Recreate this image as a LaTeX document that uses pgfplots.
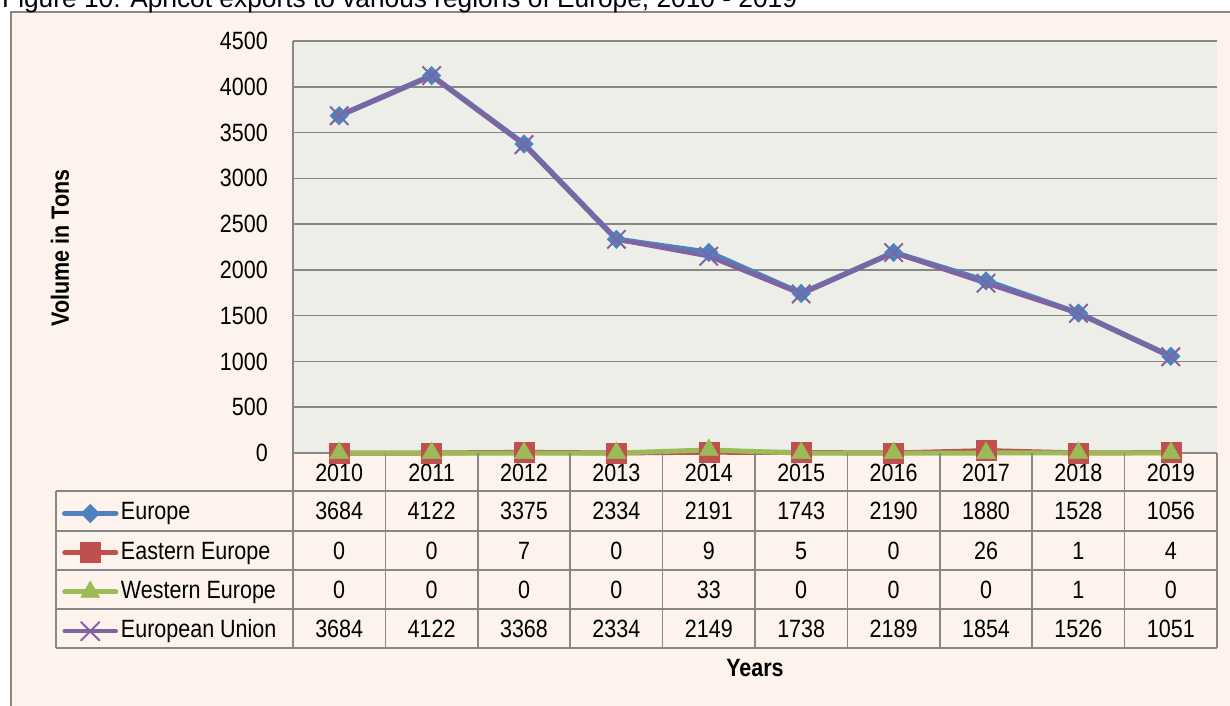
\documentclass[border=0pt]{standalone}
\usepackage{pgfplots}
\pgfplotsset{compat=1.18}
\usepackage{pgfplotstable}
\usepackage{fontspec}
\setmainfont{Liberation Sans}[FakeStretch=0.86]
\newfontfamily\titlefont{Liberation Sans}
\definecolor{outerbg}{HTML}{FDF2EC}
\definecolor{plotbg}{HTML}{EEEEE9}
\definecolor{gridc}{HTML}{878787}
\definecolor{cEu}{HTML}{4F81BD}
\definecolor{cEa}{HTML}{C0504D}
\definecolor{cWe}{HTML}{9BBB59}
\definecolor{cEU}{HTML}{8064A2}
\newcommand\f{\fontsize{25bp}{30bp}\selectfont}

\pgfplotstableread{
x europe eastern western eu
0 3684 0 0 3684
1 4122 0 0 4122
2 3375 7 0 3368
3 2334 0 0 2334
4 2191 9 33 2149
5 1743 5 0 1738
6 2190 0 0 2189
7 1880 26 0 1854
8 1528 1 1 1526
9 1056 4 0 1051
}\data

\begin{document}
\begin{tikzpicture}
\begin{scope}[x=1bp,y=-1bp,yshift=706bp]
\path[use as bounding box] (0,0) rectangle (1230,706);
\fill[outerbg] (11,12) rectangle (1240,720);
\draw[gridc, line width=1.5bp] (11,720) -- (11,12) -- (1240,12);
\node[anchor=base west, inner sep=0pt, font=\titlefont\fontsize{26.3bp}{30bp}\selectfont] at (2,8) {Figure 10: Apricot exports to various regions of Europe, 2010 - 2019};
\end{scope}

\begin{axis}[
  at={(293bp,253bp)}, anchor=south west,
  width=924bp, height=412bp, scale only axis,
  xmin=-0.5, xmax=9.5, ymin=0, ymax=4500,
  xtick={0,1,2,3,4,5,6,7,8,9},
  xticklabels={2010,2011,2012,2013,2014,2015,2016,2017,2018,2019},
  ytick={0,500,...,4500},
  major tick length=0pt,
  axis x line*=bottom, axis y line*=left,
  axis line style={draw=gridc, line width=1.5bp, -},
  ymajorgrids, grid style={draw=gridc, line width=1.5bp},
  axis background/.style={fill=plotbg},
  clip=false,
  ticklabel style={font=\f, inner sep=0pt},
  /pgf/number format/assume math mode=true,
  /pgf/number format/1000 sep={},
  yticklabel style={anchor=east, xshift=-25bp},
  xticklabel style={anchor=base, yshift=-28bp},
  ylabel={Volume in Tons},
  ylabel style={font=\f\bfseries, at={(axis description cs:-0.2522,0.4976)}, anchor=center},
  xlabel={Years},
  xlabel style={font=\f\bfseries, at={(axis description cs:0.5,-0.5218)}, anchor=center},
  legend cell align=left,
  legend style={at={(axis description cs:-0.25,-0.1189)}, anchor=north west,
    draw=none, fill=none, inner sep=0pt, outer sep=0pt,
    row sep=16.25bp, column sep=2.5bp, font=\f,
    nodes={inner sep=0pt, text height=18bp, text depth=5bp}},
  legend image code/.code={%
    \draw[mark repeat=2,mark phase=2,line cap=round,#1] plot coordinates {(0bp,0bp)(25.5bp,0bp)(51bp,0bp)};},
]
\addplot[cEu, line width=5.5bp, mark=square*, mark size=6.5bp, mark options={rotate=45, line width=0.5bp}] table[x=x,y=europe]{\data};
\addplot[cEa, line width=5bp, mark=square*, mark size=10bp, mark options={line width=0.5bp}] table[x=x,y=eastern]{\data};
\addplot[cWe, line width=5bp, mark=triangle*, mark size=11bp, mark options={line width=0.5bp}] table[x=x,y=western]{\data};
\addplot[cEU, line width=4.5bp, mark=x, mark size=13bp, mark options={line width=2bp}] table[x=x,y=eu]{\data};
\legend{Europe, Eastern Europe, Western Europe, European Union}
\end{axis}

\begin{scope}[x=1bp,y=-1bp,yshift=706bp]
\foreach \yy in {491,531,570,609,648} \draw[gridc, line width=1.5bp] (56,\yy) -- (1217,\yy);
\draw[gridc, line width=1.5bp] (56,491) -- (56,648);
\foreach \k in {0,...,10} \draw[gridc, line width=1.5bp] ({293+92.4*\k},453) -- ({293+92.4*\k},648);
\foreach \v [count=\i from 0] in {3684,4122,3375,2334,2191,1743,2190,1880,1528,1056}
  \node[font=\f, anchor=base, inner sep=0pt] at ({339.2+92.4*\i},520) {\v};
\foreach \v [count=\i from 0] in {0,0,7,0,9,5,0,26,1,4}
  \node[font=\f, anchor=base, inner sep=0pt] at ({339.2+92.4*\i},559.5) {\v};
\foreach \v [count=\i from 0] in {0,0,0,0,33,0,0,0,1,0}
  \node[font=\f, anchor=base, inner sep=0pt] at ({339.2+92.4*\i},598.5) {\v};
\foreach \v [count=\i from 0] in {3684,4122,3368,2334,2149,1738,2189,1854,1526,1051}
  \node[font=\f, anchor=base, inner sep=0pt] at ({339.2+92.4*\i},637.5) {\v};
\end{scope}
\end{tikzpicture}
\end{document}
